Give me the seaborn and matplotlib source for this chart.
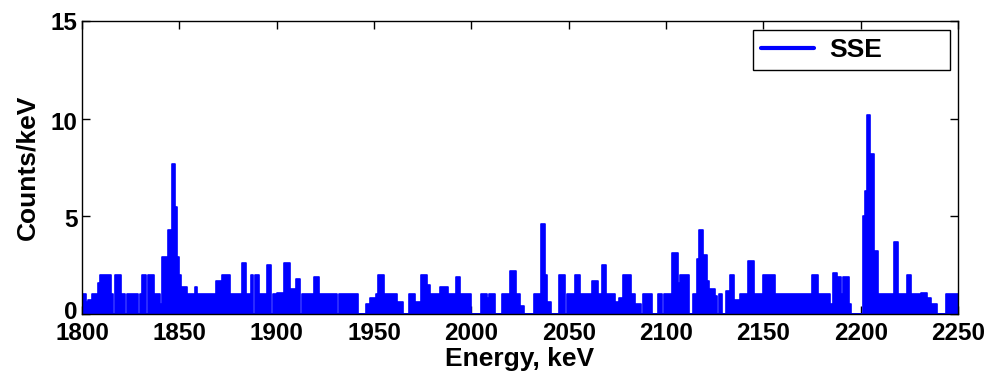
import numpy as np
import pandas as pd
import matplotlib
matplotlib.use("Agg")
import matplotlib.pyplot as plt
import matplotlib.transforms as mtransforms
import seaborn as sns
from matplotlib.lines import Line2D

# Segment start energies (keV) and counts/keV level
seg_start = [
    1800, 1802, 1803, 1805, 1808, 1809, 1815, 1816, 1817, 1820,
    1822, 1823, 1829, 1830, 1831, 1833, 1834, 1837, 1840, 1841,
    1844, 1846, 1848, 1849, 1850, 1851, 1854, 1858, 1859, 1869,
    1872, 1876, 1882, 1884, 1887, 1888, 1889, 1891, 1895, 1897,
    1898, 1900, 1904, 1907, 1910, 1912, 1913, 1919, 1922, 1931,
    1932, 1942, 1946, 1948, 1951, 1952, 1955, 1962, 1965, 1968,
    1971, 1974, 1977, 1979, 1984, 1988, 1992, 1994, 2000, 2005,
    2008, 2009, 2012, 2016, 2020, 2023, 2025, 2027, 2032, 2036,
    2038, 2039, 2041, 2045, 2048, 2049, 2053, 2056, 2062, 2065,
    2067, 2069, 2074, 2076, 2078, 2082, 2084, 2087, 2088, 2093,
    2096, 2098, 2099, 2103, 2106, 2107, 2112, 2114, 2116, 2117,
    2119, 2121, 2122, 2125, 2126, 2127, 2129, 2131, 2133, 2135,
    2138, 2142, 2145, 2150, 2156, 2175, 2178, 2184, 2186, 2188,
    2190, 2191, 2194, 2195, 2201, 2202, 2203, 2205, 2207, 2209,
    2217, 2219, 2224, 2226, 2231, 2234, 2236, 2239, 2244,
]
seg_level = [
    1, 0.6, 0.7, 1, 1.6, 2, 1, 0, 2, 1,
    0, 1, 0, 1, 2, 0, 2, 1, 0.5, 2.9,
    4.3, 7.7, 5.5, 2.9, 2, 1.4, 1, 1.4, 1, 1.7,
    2, 1, 2.6, 1, 2, 0, 2, 1, 2.5, 0,
    1, 1.1, 2.6, 1.3, 1.8, 0, 1, 1.9, 1, 0,
    1, 0, 0.5, 0.8, 1, 2, 1, 0.6, 0, 1,
    0.6, 2, 1.5, 1, 1.4, 1, 1.9, 1, 0, 1,
    0.8, 1, 0, 1, 2.2, 1, 0.4, 0, 1, 4.6,
    2, 0.6, 0, 2, 0, 1, 2, 1, 1.7, 1,
    2.5, 1, 0.6, 0.8, 2, 1, 0.5, 0, 1, 0,
    1, 0, 1, 3.1, 1.6, 2, 0, 1, 2.8, 4.3,
    3.0, 1.7, 1.3, 0.9, 0, 1, 0, 1.2, 2, 0.7,
    1, 2.7, 1, 2, 1, 2, 1, 0.5, 2.1, 1.9,
    1, 1.9, 0.5, 0, 5.0, 6.3, 10.2, 8.2, 3.2, 1,
    3.7, 1, 2, 1, 1.1, 0.8, 0.5, 0, 1,
]
energy_end = 2250
x_ticks = [1800, 1850, 1900, 1950, 2000, 2050, 2100, 2150, 2200, 2250]
y_ticks = [0, 5, 10, 15]
series_name = "SSE"

sns.set_style("ticks")
plt.rcParams['font.family'] = ['Liberation Sans', 'DejaVu Sans']
plt.rcParams['text.color'] = 'black'
plt.rcParams['axes.labelcolor'] = 'black'

edges = [float(v) for v in seg_start] + [float(energy_end)]
mids = [(a + b) / 2 for a, b in zip(edges[:-1], edges[1:])]
df = pd.DataFrame({"energy": mids, "level": seg_level})

fig = plt.figure(figsize=(9.94, 3.80), dpi=100)
ax = fig.add_axes([82 / 994, 1 - 314 / 380, 876 / 994, 293 / 380])

blue = "#0000ff"
sns.histplot(data=df, x="energy", weights="level", bins=edges,
             element="step", fill=True, color=blue, alpha=1,
             edgecolor=blue, linewidth=1.2, ax=ax)

ax.set_xlim(1800, 2250)
ax.set_ylim(0, 15)
ax.set_xticks(x_ticks)
ax.set_yticks(y_ticks)
ax.tick_params(direction="in", top=True, right=True, length=6, width=1,
               labelsize=17.5, colors="black", labelcolor="black", pad=3)
ax.tick_params(axis="x", pad=6)
for lab in ax.get_xticklabels() + ax.get_yticklabels():
    lab.set_fontweight("bold")
ylabs = ax.get_yticklabels()
shift_up = mtransforms.ScaledTranslation(0, 3 / 72, fig.dpi_scale_trans)
ylabs[0].set_transform(ylabs[0].get_transform() + shift_up)
shift_dn = mtransforms.ScaledTranslation(0, -1.5 / 72, fig.dpi_scale_trans)
for lab in ylabs[1:3]:
    lab.set_transform(lab.get_transform() + shift_dn)
for sp in ax.spines.values():
    sp.set_visible(True)
    sp.set_color("black")
    sp.set_linewidth(1)

ax.set_xlabel("Energy, keV", fontsize=19, fontweight="bold", labelpad=1,
              color="black")
ax.set_ylabel("Counts/keV", fontsize=19, fontweight="bold", labelpad=8,
              color="black")

handle = Line2D([], [], color=blue, lw=3)
leg = ax.legend([handle], [series_name], loc="upper left",
                bbox_to_anchor=(0.766, 0.833, 0.225, 0.136), mode="expand",
                borderaxespad=0, frameon=True, fancybox=False,
                framealpha=1, edgecolor="black", handlelength=2.0,
                handletextpad=0.6, borderpad=0.3,
                prop={"size": 19, "weight": "bold"})
leg.get_frame().set_linewidth(1)
for t in leg.get_texts():
    t.set_color("black")

fig.savefig("out.png", dpi=100)
